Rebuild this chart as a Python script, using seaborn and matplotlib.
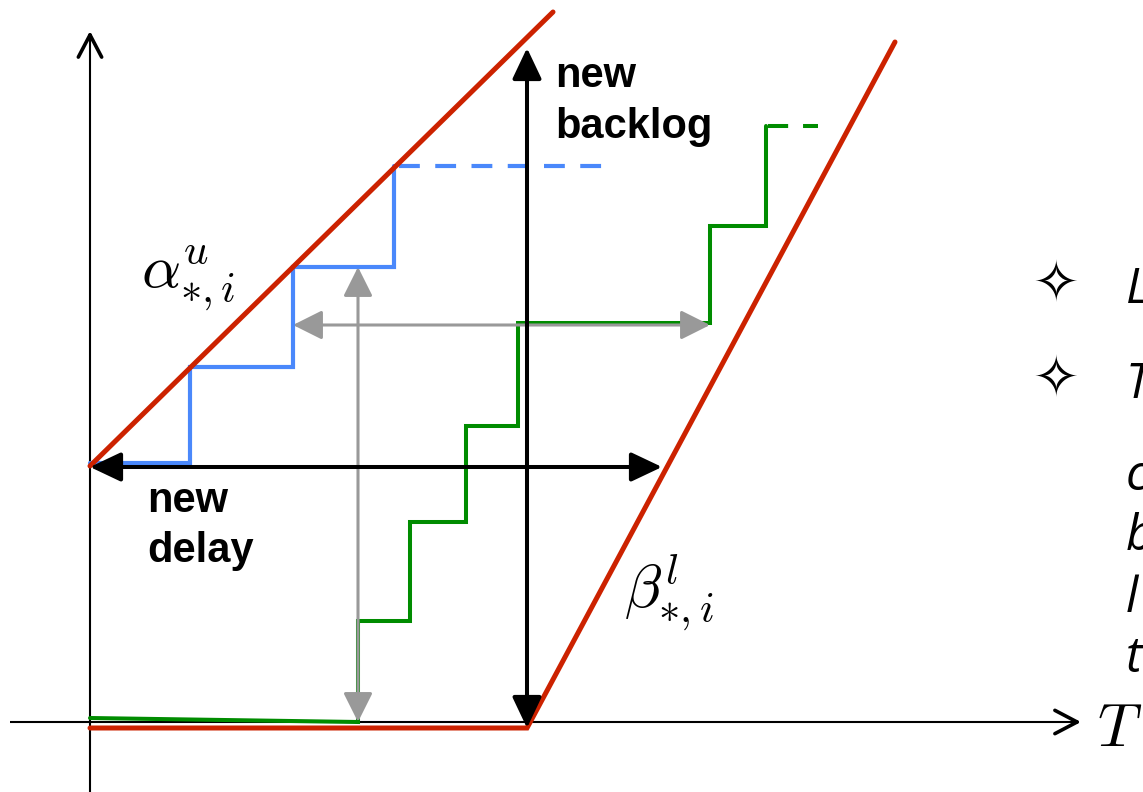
import matplotlib
matplotlib.use("Agg")
import matplotlib.pyplot as plt
import seaborn as sns
from matplotlib.patches import FancyArrowPatch

sns.set_theme(style="white")
plt.rcParams["font.family"] = ["Liberation Sans", "DejaVu Sans"]
plt.rcParams["mathtext.fontset"] = "cm"

# ---- geometry of the diagram (canvas units, y grows downward) ----
origin_x, origin_y = 90, 722

# upper arrival envelope alpha
alpha_x = [90, 553]
alpha_y = [466, 12]

# lower service curve beta: latency segment, then rate segment
beta_x = [90, 527, 895]
beta_y = [728, 728, 42]

# arrival staircase (blue) and its continuation
blue_x = [90, 190, 190, 293, 293, 394, 394]
blue_y = [463, 463, 367, 367, 267, 267, 166]
blue_tail_x = [399, 607]
blue_tail_y = [166, 166]

# departure staircase (green) and its continuation
green_x = [90, 358, 358, 410, 410, 466, 466, 518, 518, 710, 710, 766, 766]
green_y = [718, 722, 621, 621, 522, 522, 426, 426, 323, 323, 226, 226, 126]
green_tail_x = [768, 818]
green_tail_y = [126, 126]

# double arrows: (start, end)
backlog_arrow = ((527, 48), (527, 728))
delay_arrow = ((90, 467), (662, 467))
gray_v_arrow = ((358, 267), (358, 722))
gray_h_arrow = ((293, 325), (710, 325))

RED = "#cc2200"
BLUE = "#4a88fb"
GREEN = "#008c00"
GRAY = "#999999"

fig = plt.figure(figsize=(11.43, 7.92), dpi=100)
ax = fig.add_axes([0, 0, 1, 1])
ax.set_xlim(0, 1143)
ax.set_ylim(792, 0)
ax.axis("off")

# coordinate axes
ax.plot([origin_x, origin_x], [792, 34], color="black", lw=1.5, zorder=1,
        solid_capstyle="butt")
ax.plot([10, 1078], [origin_y, origin_y], color="black", lw=1.5, zorder=1,
        solid_capstyle="butt")
ax.add_patch(FancyArrowPatch((origin_x, 40), (origin_x, 31),
                             arrowstyle="->,head_length=0.8,head_width=0.42",
                             mutation_scale=20, color="black", lw=2.6,
                             shrinkA=0, shrinkB=0, zorder=1))
ax.add_patch(FancyArrowPatch((1072, origin_y), (1081, origin_y),
                             arrowstyle="->,head_length=0.8,head_width=0.42",
                             mutation_scale=20, color="black", lw=2.6,
                             shrinkA=0, shrinkB=0, zorder=1))


def poly(xs, ys, color, lw, z, dashed=False):
    sns.lineplot(x=xs, y=ys, sort=False, estimator=None, color=color,
                 lw=lw, ax=ax, zorder=z, legend=False)
    line = ax.lines[-1]
    line.set_solid_joinstyle("miter")
    if dashed:
        line.set_linestyle((0, (5.0, 3.7)))
        line.set_dash_capstyle("butt")


poly(blue_x, blue_y, BLUE, 3.0, 2)
poly(blue_tail_x, blue_tail_y, BLUE, 3.0, 2, dashed=True)
poly(green_x, green_y, GREEN, 2.9, 3)
poly(green_tail_x, green_tail_y, GREEN, 2.9, 3, dashed=True)
poly(alpha_x, alpha_y, RED, 3.6, 5)
poly(beta_x, beta_y, RED, 3.6, 5)


def double_arrow(seg, color, lw, ms, hl, hw, z):
    ax.add_patch(FancyArrowPatch(seg[0], seg[1],
                                 arrowstyle=f"<|-|>,head_length={hl},head_width={hw}",
                                 mutation_scale=ms, color=color, lw=lw,
                                 shrinkA=0, shrinkB=0, zorder=z))


double_arrow(gray_v_arrow, GRAY, 2.2, 20, 0.9, 0.45, 4)
double_arrow(gray_h_arrow, GRAY, 2.2, 20, 0.9, 0.45, 4)
double_arrow(backlog_arrow, "black", 2.9, 20, 0.95, 0.45, 6)
double_arrow(delay_arrow, "black", 2.9, 20, 0.95, 0.45, 6)

# annotations
bold = dict(fontsize=30, fontweight="bold", color="black", va="baseline",
            ha="left", zorder=7)
ax.text(555, 87, "new", **bold)
ax.text(555, 138, "backlog", **bold)
ax.text(147, 512, "new", **bold)
ax.text(147, 562, "delay", **bold)

ax.text(141, 288, r"$\alpha^{u}_{*,i}$", fontsize=44, va="baseline",
        ha="left", color="black", zorder=7)
ax.text(624, 608, r"$\beta^{l}_{*,i}$", fontsize=44, va="baseline",
        ha="left", color="black", zorder=7)
ax.text(1097, 746, r"$T$", fontsize=44, va="baseline", ha="left",
        color="black", zorder=7)

# side notes (run off the right edge)
star = dict(fontsize=40, va="center", ha="left", color="black",
            family=["DejaVu Sans"], zorder=7)
ax.text(1033, 286, "\u2727", **star)
ax.text(1033, 381, "\u2727", **star)

note = dict(fontsize=35, style="italic", va="baseline", ha="left",
            color="black", family=["Open Sans", "DejaVu Sans"], zorder=7)
ax.text(1126, 303, "L", **note)
ax.text(1126, 398, "T", **note)
ax.text(1126, 490, "c", **note)
ax.text(1126, 550, "b", **note)
ax.text(1126, 612, "l", **note)
ax.text(1126, 672, "t", **note)

fig.savefig("out.png", dpi=100)
